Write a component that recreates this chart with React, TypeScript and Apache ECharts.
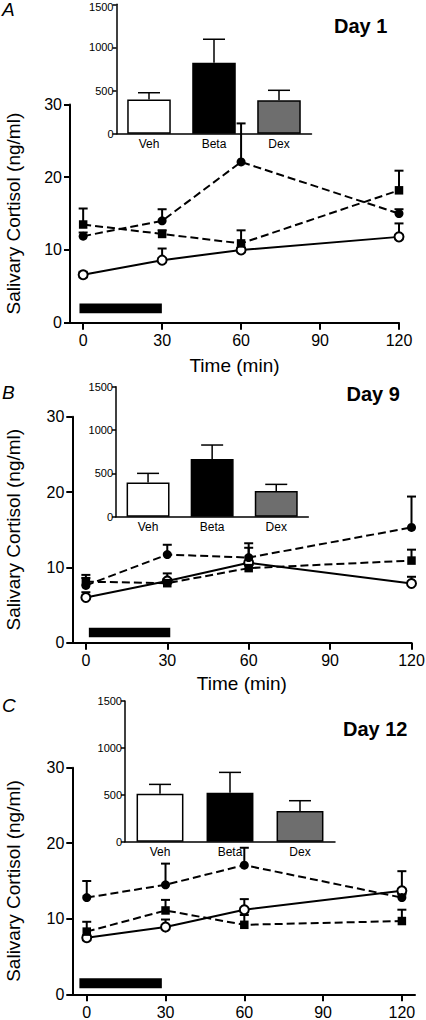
import React, { useEffect, useRef } from "react";
import * as echarts from "echarts";

// ---------- data ----------
const TIME_TICKS = [0, 30, 60, 90, 120];
const SAMPLE_TIMES = [0, 30, 60, 120];
const GROUPS = ["Veh", "Beta", "Dex"];
const PANEL_LETTERS = ["A", "B", "C"];
const DAY_LABELS = ["Day 1", "Day 9", "Day 12"];

// Day 1
const D1_VEH = [6.6, 8.6, 10.0, 11.8];
const D1_VEH_ERR = [0.4, 1.6, 0.3, 1.85];
const D1_BETA = [11.9, 14.0, 22.1, 15.0];
const D1_BETA_ERR = [0.5, 1.6, 5.3, 0.6];
const D1_DEX = [13.5, 12.2, 10.9, 18.2];
const D1_DEX_ERR = [2.2, 0.5, 1.8, 2.7];
const D1_AUC = [395, 823, 387];
const D1_AUC_ERR = [80, 272, 116];
const D1_TREAT = [-1.4, 1.3, 29.9, 2.65];

// Day 9
const D9_VEH = [6.0, 8.2, 10.6, 7.85];
const D9_VEH_ERR = [0.7, 1.0, 2.0, 0.9];
const D9_BETA = [7.6, 11.7, 11.3, 15.3];
const D9_BETA_ERR = [1.4, 1.3, 1.9, 4.1];
const D9_DEX = [8.1, 7.9, 9.9, 10.9];
const D9_DEX_ERR = [0.5, 0.5, 0.4, 1.45];
const D9_AUC = [396, 665, 296];
const D9_AUC_ERR = [104, 162, 77];
const D9_TREAT = [1.1, 0.72, 31.1, 1.99];

// Day 12
const D12_VEH = [7.5, 8.9, 11.2, 13.7];
const D12_VEH_ERR = [0.3, 1.0, 1.4, 2.6];
const D12_BETA = [12.8, 14.5, 17.1, 12.8];
const D12_BETA_ERR = [2.2, 2.8, 2.3, 0.4];
const D12_DEX = [8.3, 11.1, 9.2, 9.7];
const D12_DEX_ERR = [1.3, 1.4, 1.3, 1.5];
const D12_AUC = [512, 522, 327];
const D12_AUC_ERR = [99, 217, 110];
const D12_TREAT = [-2.8, 0.8, 28.6, 2.12];

const PANEL_DATA = [
  { veh: D1_VEH, vehErr: D1_VEH_ERR, beta: D1_BETA, betaErr: D1_BETA_ERR, dex: D1_DEX, dexErr: D1_DEX_ERR, auc: D1_AUC, aucErr: D1_AUC_ERR, treat: D1_TREAT },
  { veh: D9_VEH, vehErr: D9_VEH_ERR, beta: D9_BETA, betaErr: D9_BETA_ERR, dex: D9_DEX, dexErr: D9_DEX_ERR, auc: D9_AUC, aucErr: D9_AUC_ERR, treat: D9_TREAT },
  { veh: D12_VEH, vehErr: D12_VEH_ERR, beta: D12_BETA, betaErr: D12_BETA_ERR, dex: D12_DEX, dexErr: D12_DEX_ERR, auc: D12_AUC, aucErr: D12_AUC_ERR, treat: D12_TREAT },
];

// ---------- layout ----------
const LAYOUT = [
  {
    main: { left: 70, top: 104.5, width: 329, height: 218.2 }, xMin: -5, xMax: 120, xName: "Time (min)", xNameGap: 33,
    inset: { left: 116.5, top: 4.3, width: 195, height: 129.4 }, topLabelPad: 6,
    letter: [2, 9], day: [334, 26], yNameGap: 47,
  },
  {
    main: { left: 72.3, top: 416.7, width: 339.2, height: 226 }, xMin: -5, xMax: 120, xName: "Time (min)", xNameGap: 31,
    inset: { left: 116, top: 386.7, width: 192.3, height: 130 }, topLabelPad: 0,
    letter: [2, 392], day: [346.5, 394], yNameGap: 49,
  },
  {
    main: { left: 72.3, top: 767.7, width: 342.7, height: 226.6 }, xMin: -5.5, xMax: 125, xName: "", xNameGap: 31,
    inset: { left: 125, top: 701, width: 210, height: 140.7 }, topLabelPad: 0,
    letter: [2, 705.5], day: [343, 728.5], yNameGap: 49,
  },
];

const FONT = "Liberation Sans";
const BAR_COLORS = ["#ffffff", "#000000", "#6e6e6e"];

function errRender(capHalf: number, lw: number) {
  return (params: any, api: any) => {
    const x = api.value(0);
    const y = api.value(1);
    const e = api.value(2);
    const p0 = api.coord([x, y]);
    const p1 = api.coord([x, y + e]);
    return {
      type: "group",
      children: [
        { type: "line", shape: { x1: p0[0], y1: p0[1], x2: p1[0], y2: p1[1] }, style: { stroke: "#000", lineWidth: lw } },
        { type: "line", shape: { x1: p1[0] - capHalf, y1: p1[1], x2: p1[0] + capHalf, y2: p1[1] }, style: { stroke: "#000", lineWidth: lw } },
      ],
    };
  };
}

function buildOption() {
  const grid: any[] = [];
  const xAxis: any[] = [];
  const yAxis: any[] = [];
  const series: any[] = [];
  const graphic: any[] = [];

  PANEL_DATA.forEach((d, p) => {
    const L = LAYOUT[p];
    const gMain = grid.length;
    grid.push({ ...L.main, containLabel: false, outerBoundsMode: "none" });
    const gIn = grid.length;
    grid.push({ ...L.inset, containLabel: false, outerBoundsMode: "none" });

    xAxis.push({
      type: "value", gridIndex: gMain, min: L.xMin, max: L.xMax,
      axisLine: { show: true, onZero: false, lineStyle: { color: "#000", width: 2 } },
      axisTick: { show: true, length: 7, lineStyle: { color: "#000", width: 2 }, customValues: TIME_TICKS },
      axisLabel: { show: true, customValues: TIME_TICKS, color: "#000", fontSize: 16, fontFamily: FONT, margin: 10 },
      splitLine: { show: false },
      name: L.xName, nameLocation: "middle", nameGap: L.xNameGap,
      nameTextStyle: { color: "#000", fontSize: 19, fontFamily: FONT },
    });
    yAxis.push({
      type: "value", gridIndex: gMain, min: 0, max: 30, interval: 10,
      axisLine: { show: true, onZero: false, lineStyle: { color: "#000", width: 2 } },
      axisTick: { show: true, length: 6, lineStyle: { color: "#000", width: 2 } },
      axisLabel: { color: "#000", fontSize: 16, fontFamily: FONT, margin: 8 },
      splitLine: { show: false },
      name: "Salivary Cortisol (ng/ml)", nameLocation: "middle", nameGap: L.yNameGap,
      nameTextStyle: { color: "#000", fontSize: 19, fontFamily: FONT },
    });
    const axMain = xAxis.length - 1;

    xAxis.push({
      type: "category", gridIndex: gIn, data: GROUPS,
      axisLine: { show: true, lineStyle: { color: "#000", width: 1.5 } },
      axisTick: { show: false },
      axisLabel: { color: "#000", fontSize: 12, fontFamily: FONT, margin: 4 },
      splitLine: { show: false },
    });
    yAxis.push({
      type: "value", gridIndex: gIn, min: 0, max: 1500, interval: 500,
      axisLine: { show: true, lineStyle: { color: "#000", width: 1.5 } },
      axisTick: { show: true, length: 4, lineStyle: { color: "#000", width: 1.5 } },
      axisLabel: {
        color: "#000", fontSize: 11, fontFamily: FONT, margin: 3,
        formatter: (v: number) => (v === 1500 && L.topLabelPad ? "{top|" + String(v) + "}" : String(v)),
        rich: { top: { color: "#000", fontSize: 11, fontFamily: FONT, padding: [L.topLabelPad, 0, 0, 0] } },
      },
      splitLine: { show: false },
    });
    const axIn = xAxis.length - 1;

    series.push({
      type: "bar", xAxisIndex: axIn, yAxisIndex: axIn, barWidth: "67%",
      data: d.auc.map((v, i) => ({ value: v, itemStyle: { color: BAR_COLORS[i] } })),
      itemStyle: { borderColor: "#000", borderWidth: 1.5 },
      z: 2,
    });
    series.push({
      type: "custom", xAxisIndex: axIn, yAxisIndex: axIn, clip: false,
      data: d.auc.map((v, i) => [i, v, d.aucErr[i]]),
      encode: { x: 0, y: 1 },
      renderItem: errRender(11, 1.5),
      z: 1,
    });

    series.push({
      type: "custom", xAxisIndex: axMain, yAxisIndex: axMain, clip: false,
      data: [d.treat],
      encode: { x: [0, 2], y: [1, 3] },
      renderItem: (params: any, api: any) => {
        const a = api.coord([api.value(0), api.value(1)]);
        const b = api.coord([api.value(2), api.value(3)]);
        return { type: "rect", shape: { x: a[0], y: b[1], width: b[0] - a[0], height: a[1] - b[1] }, style: { fill: "#000" } };
      },
      z: 3,
    });

    const lines = [
      { vals: d.veh, errs: d.vehErr, dashed: false, symbol: "circle", fill: "#fff" },
      { vals: d.beta, errs: d.betaErr, dashed: true, symbol: "circle", fill: "#000" },
      { vals: d.dex, errs: d.dexErr, dashed: true, symbol: "rect", fill: "#000" },
    ];
    lines.forEach((ln) => {
      series.push({
        type: "custom", xAxisIndex: axMain, yAxisIndex: axMain, clip: false,
        data: SAMPLE_TIMES.map((t, i) => [t, ln.vals[i], ln.errs[i]]),
        encode: { x: 0, y: 1 },
        renderItem: errRender(4.5, 2),
        z: 4,
      });
    });
    lines.forEach((ln) => {
      series.push({
        type: "line", xAxisIndex: axMain, yAxisIndex: axMain,
        data: SAMPLE_TIMES.map((t, i) => [t, ln.vals[i]]),
        symbol: ln.symbol, symbolSize: ln.symbol === "rect" ? 8.5 : 9, showSymbol: true,
        lineStyle: { color: "#000", width: 2, type: ln.dashed ? [8, 4] : "solid" },
        itemStyle: { color: ln.fill, borderColor: "#000", borderWidth: ln.fill === "#fff" ? 2 : 0 },
        z: 5,
      });
    });

    graphic.push({
      type: "text", x: L.letter[0], y: L.letter[1],
      style: { text: PANEL_LETTERS[p], fontSize: 19, fontStyle: "italic", fontFamily: FONT, fill: "#000", textAlign: "left", textVerticalAlign: "middle" },
    });
    graphic.push({
      type: "text", x: L.day[0], y: L.day[1],
      style: { text: DAY_LABELS[p], fontSize: 20, fontWeight: "bold", fontFamily: FONT, fill: "#000", textAlign: "left", textVerticalAlign: "middle" },
    });
  });

  return {
    animation: false,
    backgroundColor: "#fff",
    textStyle: { fontFamily: FONT },
    grid, xAxis, yAxis, series, graphic,
  };
}

export default function App() {
  const ref = useRef<HTMLDivElement>(null);
  useEffect(() => {
    if (!ref.current) return;
    const chart = echarts.init(ref.current, null, { renderer: "svg" });
    chart.setOption(buildOption() as any);
    return () => chart.dispose();
  }, []);
  return (
    <div
      ref={ref}
      style={{ position: "absolute", left: 0, top: 0, width: 426, height: 1020, background: "#fff" }}
    />
  );
}
